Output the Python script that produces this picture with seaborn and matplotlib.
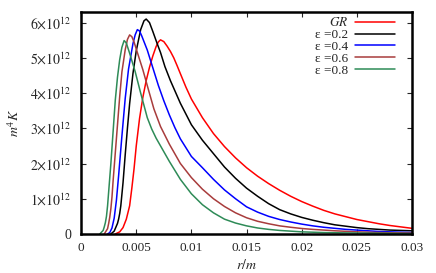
import numpy as np
import pandas as pd
import matplotlib
matplotlib.use("Agg")
import matplotlib.pyplot as plt
import seaborn as sns

# ---- data (r/m, m^4 K in units of 1e12) ----
r_gr = [0.0031, 0.0035, 0.0038, 0.0041, 0.0044, 0.0046, 0.0048, 0.0050, 0.0053, 0.0056,
        0.0059, 0.0062, 0.0065, 0.0068, 0.0070, 0.0072, 0.0075, 0.0078, 0.0081, 0.0084,
        0.0087, 0.0090, 0.0095, 0.0100, 0.0110, 0.0120, 0.0130, 0.0140, 0.0150, 0.0160,
        0.0170, 0.0180, 0.0190, 0.0200, 0.0210, 0.0220, 0.0230, 0.0240, 0.0250, 0.0260,
        0.0270, 0.0280, 0.0290, 0.0300]
k_gr = [0.00, 0.06, 0.18, 0.42, 0.80, 1.30, 1.85, 2.50, 3.28, 3.88,
        4.35, 4.73, 5.05, 5.32, 5.45, 5.51, 5.46, 5.33, 5.18, 5.00,
        4.78, 4.55, 4.17, 3.83, 3.30, 2.85, 2.48, 2.16, 1.88, 1.64,
        1.43, 1.24, 1.07, 0.92, 0.79, 0.67, 0.57, 0.49, 0.41, 0.35,
        0.29, 0.24, 0.20, 0.16]

r_e2 = [0.0027, 0.0030, 0.0033, 0.0034, 0.0035, 0.0036, 0.0038, 0.0040, 0.0042, 0.0044,
        0.0047, 0.0050, 0.0054, 0.0057, 0.0059, 0.0062, 0.0065, 0.0069, 0.0072, 0.0076,
        0.0081, 0.0090, 0.0100, 0.0110, 0.0120, 0.0130, 0.0140, 0.0150, 0.0160, 0.0170,
        0.0180, 0.0190, 0.0200, 0.0210, 0.0220, 0.0230, 0.0240, 0.0250, 0.0260, 0.0270,
        0.0280, 0.0290, 0.0300]
k_e2 = [0.00, 0.08, 0.30, 0.42, 0.58, 0.80, 1.45, 2.25, 3.00, 3.70,
        4.55, 5.20, 5.80, 6.05, 6.10, 6.00, 5.75, 5.40, 5.15, 4.75,
        4.35, 3.71, 3.10, 2.66, 2.28, 1.90, 1.58, 1.30, 1.07, 0.86,
        0.69, 0.57, 0.47, 0.39, 0.32, 0.26, 0.22, 0.18, 0.15, 0.13,
        0.11, 0.10, 0.09]

r_e4 = [0.0024, 0.0026, 0.0028, 0.0030, 0.0032, 0.0034, 0.0037, 0.0040, 0.0043, 0.0047,
        0.0049, 0.0051, 0.0053, 0.0055, 0.0060, 0.0065, 0.0070, 0.0075, 0.0080, 0.0085,
        0.0090, 0.0100, 0.0110, 0.0120, 0.0130, 0.0140, 0.0150, 0.0160, 0.0170, 0.0180,
        0.0190, 0.0200, 0.0210, 0.0220, 0.0230, 0.0240, 0.0250, 0.0260, 0.0270, 0.0280,
        0.0290, 0.0300]
k_e4 = [0.00, 0.04, 0.17, 0.45, 0.95, 1.65, 2.78, 3.85, 4.68, 5.40,
        5.65, 5.80, 5.76, 5.62, 5.22, 4.72, 4.22, 3.78, 3.38, 3.02,
        2.70, 2.20, 1.88, 1.55, 1.25, 1.00, 0.77, 0.62, 0.50, 0.41,
        0.34, 0.28, 0.23, 0.19, 0.16, 0.13, 0.11, 0.09, 0.07, 0.06,
        0.05, 0.04]

r_e6 = [0.0021, 0.0024, 0.0025, 0.0026, 0.0027, 0.0028, 0.0029, 0.0031, 0.0033, 0.0035,
        0.0037, 0.0040, 0.0042, 0.0044, 0.0046, 0.0048, 0.0050, 0.0056, 0.0061, 0.0066,
        0.0072, 0.0080, 0.0090, 0.0100, 0.0110, 0.0120, 0.0130, 0.0140, 0.0150, 0.0160,
        0.0170, 0.0180, 0.0190, 0.0200, 0.0210, 0.0220, 0.0230, 0.0240, 0.0250, 0.0260,
        0.0270, 0.0280, 0.0290, 0.0300]
k_e6 = [0.00, 0.15, 0.30, 0.48, 0.72, 1.05, 1.50, 2.30, 3.10, 3.90,
        4.60, 5.23, 5.52, 5.65, 5.60, 5.45, 5.25, 4.66, 4.10, 3.55,
        3.05, 2.55, 2.00, 1.60, 1.27, 1.00, 0.78, 0.60, 0.46, 0.36,
        0.29, 0.23, 0.19, 0.155, 0.13, 0.11, 0.09, 0.075, 0.06, 0.05,
        0.04, 0.035, 0.03, 0.025]

r_e8 = [0.0017, 0.0020, 0.0021, 0.0022, 0.0023, 0.0024, 0.0025, 0.0027, 0.0029, 0.0031,
        0.0033, 0.0035, 0.0037, 0.0039, 0.0041, 0.0044, 0.0049, 0.0054, 0.0060, 0.0064,
        0.0068, 0.0072, 0.0080, 0.0090, 0.0100, 0.0110, 0.0120, 0.0130, 0.0140, 0.0150,
        0.0160, 0.0170, 0.0180, 0.0190, 0.0200, 0.0220, 0.0240, 0.0270, 0.0300]
k_e8 = [0.00, 0.10, 0.20, 0.32, 0.50, 0.80, 1.20, 2.00, 2.90, 3.80,
        4.45, 4.95, 5.30, 5.49, 5.42, 5.13, 4.61, 4.00, 3.30, 2.98,
        2.72, 2.50, 2.06, 1.55, 1.14, 0.83, 0.60, 0.42, 0.31, 0.23,
        0.17, 0.13, 0.10, 0.08, 0.06, 0.04, 0.03, 0.02, 0.01]

series_labels = [r"$GR$", "ε =0.2", "ε =0.4", "ε =0.6", "ε =0.8"]
series_colors = ["#ff0000", "#000000", "#0000ff", "#a83c3c", "#2e8b57"]

y_ticks = [0, 1e12, 2e12, 3e12, 4e12, 5e12, 6e12]
y_tick_labels = ["0"] + [r"$%d{\times}10^{12}$" % i for i in range(1, 7)]
x_ticks = [0, 0.005, 0.01, 0.015, 0.02, 0.025, 0.03]
x_tick_labels = ["0", "0.005", "0.01", "0.015", "0.02", "0.025", "0.03"]

# ---- build long table ----
rows = []
for lab, rr, kk in zip(series_labels, [r_gr, r_e2, r_e4, r_e6, r_e8],
                       [k_gr, k_e2, k_e4, k_e6, k_e8]):
    for a, b in zip(rr, kk):
        rows.append({"r": a, "K": b * 1e12, "series": lab})
df = pd.DataFrame(rows)

sns.set_style("ticks")
plt.rcParams["font.family"] = ["Liberation Serif", "DejaVu Serif"]
plt.rcParams["mathtext.fontset"] = "stix"
plt.rcParams["xtick.direction"] = "in"
plt.rcParams["ytick.direction"] = "in"

fig = plt.figure(figsize=(4.36, 2.73), dpi=100)
ax = fig.add_axes([0.186, 0.143, 0.759, 0.813])

sns.lineplot(data=df, x="r", y="K", hue="series", hue_order=series_labels,
             palette=dict(zip(series_labels, series_colors)), sort=False,
             estimator=None, linewidth=1.1, ax=ax)

ax.set_xlim(0, 0.03)
ax.set_ylim(0, 6.3e12)
ax.set_xticks(x_ticks)
ax.set_xticklabels(x_tick_labels, fontsize=9.5)
ax.set_yticks(y_ticks)
ax.set_yticklabels(y_tick_labels, fontsize=10)
ax.tick_params(axis="both", which="both", direction="in", top=True, right=True,
               length=3.5, width=0.8)
ax.tick_params(axis="x", pad=6)
ax.tick_params(axis="y", pad=7)
for s in ax.spines.values():
    s.set_linewidth(1.8)
    s.set_color("black")
    s.set_visible(True)

ax.set_xlabel(r"$r/m$", fontsize=10, labelpad=3)
ax.set_ylabel(r"$m^4K$", fontsize=10, labelpad=6)

leg = ax.legend(loc="upper right", frameon=False, markerfirst=False,
                fontsize=9.5, handlelength=3.0, handletextpad=0.5,
                labelspacing=-0.03, borderaxespad=0.3,
                bbox_to_anchor=(0.975, 1.022))
for col in leg._legend_handle_box.get_children():
    col.align = "right"

fig.savefig("out.png", dpi=100)
